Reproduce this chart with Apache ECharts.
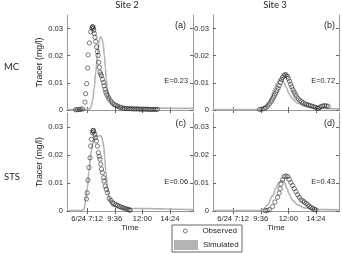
<!DOCTYPE html>
<html>
<head>
<meta charset="utf-8">
<script src="https://cdn.jsdelivr.net/npm/echarts@6/dist/echarts.min.js"></script>
<style>
  html, body { margin: 0; padding: 0; background: #fff; }
  #chart { width: 342px; height: 253px; }
</style>
</head>
<body>
<div id="chart"></div>
<script>
// x = hour of day on 6/24, y = tracer (mg/l)
const obsA = [[6.2,0.0001],[6.35,0.0001],[6.5,0.0002],[6.65,0.0002],[6.8,0.0004],
  [7.01,0.0029],[7.07,0.006],[7.16,0.0097],[7.25,0.0155],[7.28,0.0203],[7.4,0.0247],[7.51,0.0288],
  [7.6,0.0302],[7.66,0.0306],[7.7,0.0307],[7.74,0.0301],[7.78,0.0294],[7.82,0.0282],[7.88,0.0268],
  [7.95,0.0252],[8.03,0.0232],[8.1,0.0215],[8.15,0.0201],[8.21,0.0176],[8.27,0.0157],[8.32,0.0139],
  [8.38,0.0132],[8.44,0.0126],[8.53,0.0113],[8.62,0.0101],[8.67,0.0089],[8.76,0.0076],[8.82,0.0066],
  [8.91,0.0057],[9.02,0.0049],[9.11,0.0041],[9.26,0.0033],[9.4,0.0026],[9.54,0.002],[9.7,0.0017],
  [9.84,0.0014],[10.0,0.0011],[10.13,0.0009],[10.3,0.0007],[10.45,0.0006],[10.6,0.0006],[10.75,0.0005],
  [10.9,0.0005],[11.05,0.0005],[11.2,0.0004],[11.35,0.0004],[11.5,0.0004],[11.65,0.0004],[11.8,0.0003],
  [11.95,0.0003],[12.1,0.0003],[12.25,0.0003],[12.4,0.0003],[12.55,0.0002],[12.7,0.0002],[12.85,0.0002],
  [13.0,0.0002],[13.15,0.0002],[13.3,0.0002]];
const simA = [[5.45,0.0002],[7.0,0.0002],[7.4,0.0004],[7.55,0.0012],[7.68,0.0035],[7.8,0.0076],
  [7.95,0.0139],[8.1,0.0201],[8.23,0.0251],[8.32,0.0266],[8.4,0.027],[8.5,0.0262],[8.6,0.0238],
  [8.7,0.02],[8.78,0.0158],[8.86,0.0113],[8.97,0.0076],[9.11,0.0045],[9.26,0.0026],[9.54,0.0014],
  [10.13,0.0009],[11,0.0008],[12,0.0008],[13,0.0007],[14,0.0007],[15,0.0006],[16.4,0.0006]];

const obsB = [[9.5,0.0002],[9.7,0.0003],[9.9,0.0006],[10.05,0.0009],[10.2,0.0015],[10.35,0.0022],
  [10.5,0.003],[10.6,0.0038],[10.7,0.0046],[10.8,0.0054],[10.9,0.0062],[11.0,0.0071],[11.1,0.008],
  [11.2,0.009],[11.3,0.0101],[11.4,0.0112],[11.5,0.012],[11.6,0.0126],[11.7,0.013],[11.8,0.0129],
  [11.9,0.0124],[12.0,0.0116],[12.1,0.0106],[12.2,0.0095],[12.3,0.0085],[12.4,0.0075],[12.5,0.0066],
  [12.6,0.0058],[12.7,0.005],[12.85,0.0042],[13.0,0.0035],[13.15,0.003],[13.3,0.0026],[13.45,0.0022],
  [13.6,0.002],[13.75,0.0018],[13.9,0.0016],[14.05,0.0014],[14.2,0.0012],[14.35,0.001],[14.5,0.0007],
  [14.6,0.0006],[14.7,0.0009],[14.85,0.0013],[15.0,0.0015],[15.15,0.0016],[15.3,0.0015],[15.45,0.0014]];
const simB = [[5.45,0.0002],[9.4,0.0002],[9.7,0.0006],[10.04,0.0015],[10.3,0.003],[10.48,0.0046],
  [10.77,0.0078],[11.06,0.0102],[11.2,0.0112],[11.32,0.0115],[11.45,0.0112],[11.6,0.0102],
  [11.79,0.0084],[12.08,0.0059],[12.37,0.004],[12.81,0.0025],[13.25,0.0018],[13.82,0.0011],
  [14.56,0.0006],[15.5,0.0005],[16.4,0.0004]];

const obsC = [[7.14,0.0043],[7.2,0.0065],[7.27,0.011],[7.36,0.0155],[7.45,0.019],[7.51,0.0232],
  [7.57,0.0256],[7.66,0.028],[7.7,0.0287],[7.74,0.0288],[7.78,0.0283],[7.86,0.0274],[7.92,0.0262],
  [8.0,0.025],[8.09,0.0232],[8.18,0.0208],[8.25,0.0195],[8.32,0.0185],[8.38,0.0167],[8.45,0.015],
  [8.53,0.0137],[8.62,0.0119],[8.67,0.0107],[8.76,0.0089],[8.87,0.0077],[8.97,0.0065],[9.11,0.0045],
  [9.26,0.0038],[9.4,0.003],[9.54,0.0026],[9.7,0.0023],[9.84,0.002],[10.0,0.0017],[10.13,0.0014],
  [10.28,0.0012],[10.42,0.001],[10.56,0.0008],[10.71,0.0006],[10.85,0.0004],[10.94,0.0003]];
const simC = [[5.45,0.0002],[6.7,0.0002],[6.92,0.0006],[7.07,0.0036],[7.22,0.0083],[7.36,0.0143],
  [7.51,0.0202],[7.66,0.0238],[7.86,0.0262],[8.05,0.0267],[8.25,0.0269],[8.42,0.0268],[8.55,0.025],
  [8.65,0.023],[8.73,0.019],[8.82,0.0143],[8.97,0.0083],[9.11,0.0045],[9.4,0.0018],[9.98,0.001],
  [11,0.0009],[12,0.0009],[13,0.0008],[14,0.0007],[15,0.0006],[16.4,0.0005]];

const obsD = [[10.0,0.0001],[10.15,0.0002],[10.33,0.0005],[10.63,0.0016],[10.83,0.0032],[11.06,0.0049],
  [11.2,0.0064],[11.29,0.008],[11.35,0.0096],[11.5,0.0112],[11.64,0.0123],[11.79,0.0125],[11.94,0.0123],
  [12.08,0.0113],[12.22,0.0102],[12.37,0.0091],[12.51,0.008],[12.66,0.0069],[12.81,0.0058],[12.95,0.0049],
  [13.1,0.004],[13.25,0.0036],[13.39,0.0032],[13.54,0.0027],[13.68,0.0022],[13.83,0.0017],[13.97,0.0013],
  [14.1,0.0009],[14.26,0.0006],[14.4,0.0004]];
const simD = [[5.45,0.0002],[9.5,0.0002],[9.8,0.0006],[10.19,0.0022],[10.63,0.0055],[10.91,0.0081],
  [11.2,0.0103],[11.44,0.011],[11.64,0.0103],[11.88,0.0081],[12.08,0.0059],[12.37,0.0038],
  [12.81,0.0022],[13.39,0.0011],[14.26,0.0006],[15.3,0.0005],[16.4,0.0004]];

const timeTicks = [7.2, 9.6, 12, 14.4];
const timeLabels = ['6/24 7:12', '9:36', '12:00', '14:24'];
const tracerTicks = [0, 0.01, 0.02, 0.03];
const panelLabels = ['(a)', '(b)', '(c)', '(d)'];
const effLabels = ['E=0.23', 'E=0.72', 'E=0.06', 'E=0.43'];
const colLabels = ['Site 2', 'Site 3'];
const rowLabels = ['MC', 'STS'];

const observed = [obsA, obsB, obsC, obsD];
const simulated = [simA, simB, simC, simD];

const chart = echarts.init(document.getElementById('chart'));

const tickFont = 'Liberation Sans, Arial, sans-serif';
const gray = '#9a9a9a';
const txt = '#262626';
const ring = { color: 'rgba(255,255,255,0)', borderColor: '#262626', borderWidth: 0.75 };

const grids = [
  { left: 67, top: 15, width: 126, height: 95 },
  { left: 213, top: 15, width: 126, height: 95 },
  { left: 67, top: 113, width: 126, height: 98 },
  { left: 213, top: 113, width: 126, height: 98 }
];

const xAxes = [];
const yAxes = [];
const series = [];
const graphic = [];

grids.forEach(function (g, i) {
  const bottomRow = i >= 2;
  xAxes.push({
    type: 'value', gridIndex: i, min: 5.45, max: 16.4, position: 'bottom',
    axisLine: { show: true, lineStyle: { color: '#111', width: 1 } },
    axisTick: { show: true, inside: true, length: 3, customValues: timeTicks, lineStyle: { color: '#666' } },
    axisLabel: {
      show: bottomRow, customValues: timeTicks, margin: 4, fontSize: 7.6, color: txt, fontFamily: tickFont,
      formatter: function (v) { return timeLabels[timeTicks.indexOf(v)] || ''; }
    },
    splitLine: { show: false },
    name: bottomRow ? 'Time' : '', nameLocation: 'middle', nameGap: 13,
    nameTextStyle: { fontSize: 8, color: txt, fontFamily: tickFont }
  });
  xAxes.push({
    type: 'value', gridIndex: i, min: 5.45, max: 16.4, position: 'top',
    axisLine: { show: true, lineStyle: { color: gray } },
    axisTick: { show: true, inside: true, length: 3, customValues: timeTicks, lineStyle: { color: '#666' } },
    axisLabel: { show: false },
    splitLine: { show: false }
  });
  yAxes.push({
    type: 'value', gridIndex: i, min: 0, max: 0.035, interval: 0.01, position: 'left',
    axisLine: { show: true, lineStyle: { color: gray } },
    axisTick: { show: true, inside: true, length: 3, customValues: tracerTicks, lineStyle: { color: '#666' } },
    axisLabel: {
      customValues: tracerTicks, margin: 4, fontSize: 7.6, color: txt, fontFamily: tickFont,
      formatter: function (v) { return v === 0 ? '0' : v.toFixed(2); }
    },
    splitLine: { show: false },
    name: i % 2 === 0 ? 'Tracer (mg/l)' : '', nameLocation: 'middle', nameGap: 22,
    nameTextStyle: { fontSize: 8.8, color: txt, fontFamily: tickFont }
  });
  yAxes.push({
    type: 'value', gridIndex: i, min: 0, max: 0.035, interval: 0.01, position: 'right',
    axisLine: { show: true, lineStyle: { color: gray } },
    axisTick: { show: true, inside: true, length: 3, customValues: tracerTicks, lineStyle: { color: '#666' } },
    axisLabel: { show: false },
    splitLine: { show: false }
  });
  series.push({
    name: 'Simulated', type: 'line', xAxisIndex: 2 * i, yAxisIndex: 2 * i,
    data: simulated[i], showSymbol: false, smooth: 0.4, smoothMonotone: 'x',
    color: '#b3b3b3', lineStyle: { width: 1.6, color: '#b3b3b3' }, z: 2
  });
  series.push({
    name: 'Observed', type: 'scatter', xAxisIndex: 2 * i, yAxisIndex: 2 * i,
    data: observed[i], symbol: 'circle', symbolSize: 4.3,
    itemStyle: ring, z: 3
  });
  graphic.push({
    type: 'text', right: i % 2 === 0 ? 156 : 7, top: g.top + 6,
    style: { text: panelLabels[i], fontSize: 9, fill: txt, fontFamily: tickFont }
  });
  graphic.push({
    type: 'text', right: i % 2 === 0 ? 154 : 7, top: g.top + g.height - 33,
    style: { text: effLabels[i], fontSize: 7.4, fill: txt, fontFamily: tickFont }
  });
});

colLabels.forEach(function (t, j) {
  graphic.push({
    type: 'text', x: j === 0 ? 127 : 275, y: 0,
    style: { text: t, fontSize: 9.5, fill: txt, fontFamily: 'Lato, sans-serif', align: 'center' }
  });
});
rowLabels.forEach(function (t, j) {
  graphic.push({
    type: 'text', x: 4, y: j === 0 ? 62 : 172,
    style: { text: t, fontSize: 9.5, fill: txt, fontFamily: 'Lato, sans-serif' }
  });
});
graphic.push({
  type: 'rect', shape: { x: 172, y: 225, width: 70, height: 27 },
  style: { fill: 'none', stroke: '#666', lineWidth: 1 }
});

const option = {
  animation: false,
  grid: grids,
  xAxis: xAxes,
  yAxis: yAxes,
  series: series,
  graphic: graphic,
  legend: [
    {
      // legend box is laid out from the ring's own left edge
      data: [{ name: 'Observed', icon: 'circle', itemStyle: ring }],
      left: 183, top: 227, itemWidth: 24, itemHeight: 4, padding: 0, symbolKeepAspect: true,
      textStyle: { fontSize: 8, color: txt, fontFamily: tickFont }, selectedMode: false
    },
    {
      data: [{ name: 'Simulated', icon: 'rect' }], left: 174, top: 240, itemWidth: 24, itemHeight: 10, padding: 0,
      textStyle: { fontSize: 8, color: txt, fontFamily: tickFont }, selectedMode: false
    }
  ]
};

chart.setOption(option);
</script>
</body>
</html>
